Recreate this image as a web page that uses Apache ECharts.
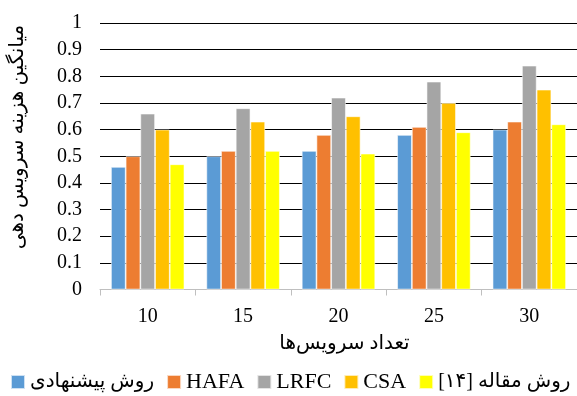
<!DOCTYPE html>
<html>
<head>
<meta charset="utf-8">
<script src="https://cdn.jsdelivr.net/npm/echarts@6/dist/echarts.min.js"></script>
<style>
  html, body { margin: 0; padding: 0; background: #fff; }
  #chart { width: 577px; height: 396px; }
</style>
</head>
<body>
<div id="chart"></div>
<script>
// Number of services on the x axis
const categories = ['10', '15', '20', '25', '30'];

// Average service cost per method
const proposed = [0.46, 0.50, 0.52, 0.58, 0.60];
const hafa     = [0.50, 0.52, 0.58, 0.61, 0.63];
const lrfc     = [0.66, 0.68, 0.72, 0.78, 0.84];
const csa      = [0.60, 0.63, 0.65, 0.70, 0.75];
const paper14  = [0.47, 0.52, 0.51, 0.59, 0.62];

const seriesNames = ['روش پیشنهادی', 'HAFA', 'LRFC', 'CSA', 'روش مقاله [۱۴]'];
const seriesData = [proposed, hafa, lrfc, csa, paper14];
const colors = ['#5B9BD5', '#ED7D31', '#A5A5A5', '#FFC000', '#FFFF00'];

const yTitle = 'میانگین هزینه سرویس دهی';
const xTitle = 'تعداد سرویس‌ها';

const serif = '"Liberation Serif", "DejaVu Serif", "DejaVu Sans", serif';

const chart = echarts.init(document.getElementById('chart'), null, { renderer: 'canvas' });

chart.setOption({
  animation: false,
  backgroundColor: '#fff',
  grid: { left: 100, top: 23, width: 479, height: 266.5 },
  legend: {
    data: seriesNames,
    left: 10, top: 371,
    padding: 0,
    itemWidth: 14, itemHeight: 14, itemGap: 12,
    icon: 'rect',
    // Latin names are set a little larger than the Persian ones
    formatter: name => (/^[A-Za-z]+$/.test(name) ? '{lat|' : '{fa|') + name + '}',
    textStyle: {
      fontFamily: serif, fontSize: 20, color: '#000',
      rich: {
        lat: { fontFamily: serif, fontSize: 22, color: '#000' },
        fa: { fontFamily: serif, fontSize: 20, color: '#000' }
      }
    }
  },
  xAxis: {
    type: 'category',
    data: categories,
    name: xTitle,
    nameLocation: 'middle',
    nameGap: 44,
    nameTextStyle: { fontFamily: serif, fontSize: 20, color: '#000', padding: [0, 0, 0, 12] },
    axisLine: { lineStyle: { color: '#BFBFBF', width: 1 } },
    axisTick: { show: true, length: 6, lineStyle: { color: '#BFBFBF' } },
    axisLabel: { fontFamily: serif, fontSize: 20, color: '#000', margin: 17 }
  },
  yAxis: {
    type: 'value',
    min: 0, max: 1, interval: 0.1,
    axisLine: { show: false },
    axisTick: { show: false },
    axisLabel: { fontFamily: serif, fontSize: 20, color: '#000', margin: 18 },
    splitLine: { lineStyle: { color: '#000', width: 1 } }
  },
  graphic: [{
    type: 'text',
    x: 18, y: 137,
    rotation: Math.PI / 2,
    style: {
      text: yTitle,
      font: '20px ' + serif,
      fill: '#000',
      textAlign: 'center',
      textVerticalAlign: 'middle'
    }
  }],
  series: seriesNames.map((name, i) => ({
    name: name,
    type: 'bar',
    data: seriesData[i],
    barGap: '0%',
    barCategoryGap: '23%',
    itemStyle: { color: colors[i], borderColor: 'rgba(255,255,255,0.7)', borderWidth: 0.8 }
  }))
});
</script>
</body>
</html>
